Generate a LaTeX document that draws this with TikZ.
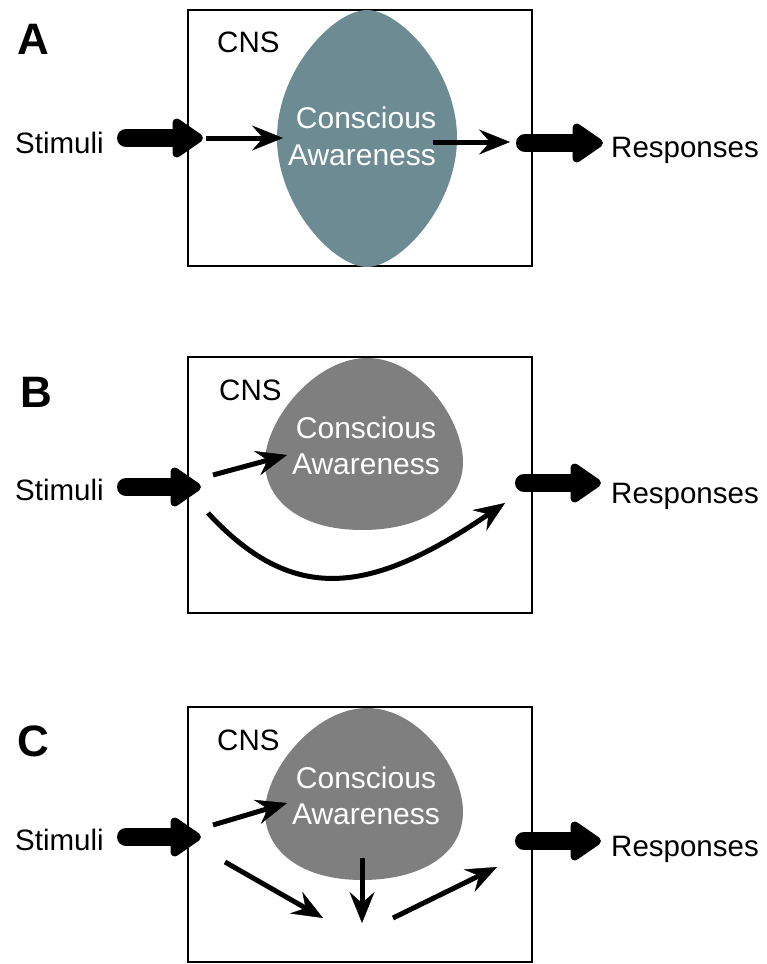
\documentclass[tikz,border=0pt]{standalone}
\usepackage{fontspec}
\setmainfont{Liberation Sans}
\usetikzlibrary{arrows.meta}
\definecolor{tealblob}{RGB}{108,139,146}
\definecolor{grayblob}{RGB}{127,127,127}

\begin{document}
\begin{tikzpicture}[x=1pt,y=-1pt,
  panel/.style={font=\fontsize{44}{50}\selectfont\bfseries, anchor=center, inner sep=0pt},
  txt/.style={font=\fontsize{29.5}{34}\selectfont, anchor=base west, inner sep=0pt},
  inner/.style={font=\fontsize{30}{34}\selectfont, text=white, anchor=base, inner sep=0pt},
  cnsbox/.style={draw, line width=2pt},
  fat/.style={line width=18pt, line cap=round,
    -{Triangle[round, length=34pt, width=44pt, line width=11pt]}},
  thin/.style={line width=5pt, -{Stealth[length=31pt, width=25pt, inset=11pt, line width=0.4pt]}},
]
\useasboundingbox (0,0) rectangle (767,964);

% ---------- Panel A ----------
\node[panel] (labA) at (33.5,39) {A};
\draw[cnsbox] (188,10) rectangle (532,266);
\fill[tealblob] (367,10) .. controls (400,10) and (457,70) .. (457,138)
  .. controls (457,206) and (400,267) .. (367,267)
  .. controls (334,267) and (277,206) .. (277,138)
  .. controls (277,70) and (334,10) .. (367,10);
\node[txt] (cnsA) at (217,52) {CNS};
\node[inner] (conA) at (366,128) {Conscious};
\node[inner] (awA) at (362,165) {Awareness};
\node[txt] (stimA) at (15,153) {Stimuli};
\node[txt] (respA) at (611,157) {Responses};
\coordinate (fA0) at (126,138);  \coordinate (fA1) at (203,138);
\coordinate (fA2) at (525,143);  \coordinate (fA3) at (603,143);
\coordinate (tA0) at (206,138);  \coordinate (tA1) at (283,138);
\coordinate (tA2) at (433,142);  \coordinate (tA3) at (510,142);
\draw[fat] (fA0) -- (fA1);
\draw[fat] (fA2) -- (fA3);
\draw[thin] (tA0) -- (tA1);
\draw[thin] (tA2) -- (tA3);

% ---------- Panel B ----------
\node[panel] (labB) at (36.5,392) {B};
\draw[cnsbox] (188,357) rectangle (532,613);
\fill[grayblob] (367,358) .. controls (420,358) and (463,420) .. (463,462)
  .. controls (463,505) and (420,530) .. (362,530)
  .. controls (300,530) and (265,500) .. (265,462)
  .. controls (265,420) and (315,358) .. (367,358);
\node[txt] (cnsB) at (219,400) {CNS};
\node[inner] (conB) at (366,438) {Conscious};
\node[inner] (awB) at (366,474) {Awareness};
\node[txt] (stimB) at (15,500) {Stimuli};
\node[txt] (respB) at (611,503) {Responses};
\coordinate (fB0) at (126,487);  \coordinate (fB1) at (201,487);
\coordinate (fB2) at (524,483);  \coordinate (fB3) at (601,483);
\coordinate (tB0) at (213,475);  \coordinate (tB1) at (287,455);
\coordinate (cB0) at (208,513);  \coordinate (cB1) at (505,503);
\draw[fat] (fB0) -- (fB1);
\draw[fat] (fB2) -- (fB3);
\draw[thin] (tB0) -- (tB1);
\draw[thin] (cB0) .. controls (293,605) and (370,595) .. (cB1);

% ---------- Panel C ----------
\node[panel] (labC) at (33.5,741) {C};
\draw[cnsbox] (188,707) rectangle (532,962);
\fill[grayblob] (367,708) .. controls (420,708) and (463,770) .. (463,812)
  .. controls (463,855) and (420,880) .. (362,880)
  .. controls (300,880) and (265,850) .. (265,812)
  .. controls (265,770) and (315,708) .. (367,708);
\node[txt] (cnsC) at (217,750) {CNS};
\node[inner] (conC) at (366,788) {Conscious};
\node[inner] (awC) at (366,824) {Awareness};
\node[txt] (stimC) at (15,850) {Stimuli};
\node[txt] (respC) at (611,856) {Responses};
\coordinate (fC0) at (126,837);  \coordinate (fC1) at (201,837);
\coordinate (fC2) at (524,841);  \coordinate (fC3) at (601,841);
\coordinate (tC0) at (213,825);  \coordinate (tC1) at (287,803);
\coordinate (tC2) at (225,862);  \coordinate (tC3) at (323,918);
\coordinate (tC4) at (362,858);  \coordinate (tC5) at (362,923);
\coordinate (tC6) at (393,918);  \coordinate (tC7) at (497,867);
\draw[fat] (fC0) -- (fC1);
\draw[fat] (fC2) -- (fC3);
\draw[thin] (tC0) -- (tC1);
\draw[thin] (tC2) -- (tC3);
\draw[thin] (tC4) -- (tC5);
\draw[thin] (tC6) -- (tC7);
\end{tikzpicture}
\end{document}
